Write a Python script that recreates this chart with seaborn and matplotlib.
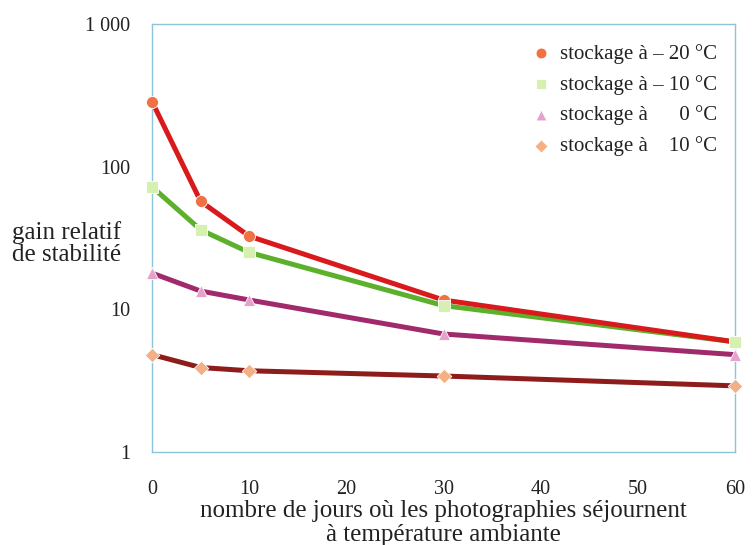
import pandas as pd
import numpy as np
import matplotlib
matplotlib.use('Agg')
import matplotlib.pyplot as plt
import seaborn as sns

# --------------
# Data
# --------------
jours = [0, 5, 10, 30, 60]
series = ['stockage à – 20 °C', 'stockage à – 10 °C', 'stockage à      0 °C', 'stockage à    10 °C']
gain_m20 = [285, 57, 32.5, 11.6, 5.9]
gain_m10 = [72, 36, 25, 10.6, 5.9]
gain_0 = [17.9, 13.4, 11.6, 6.7, 4.8]
gain_10 = [4.8, 3.9, 3.7, 3.4, 2.9]

y_ticks = [1, 10, 100, 1000]
y_ticklabels = ['1', '10', '100', '1 000']
x_ticks = [0, 10, 20, 30, 40, 50, 60]

line_colors = ['#d81a1c', '#5cb02c', '#a02a6c', '#8e1c1a']
marker_colors = ['#f07244', '#d6f0b0', '#e6a2cc', '#f2b084']
marker_shapes = ['o', 's', '^', 'D']
marker_sizes = [75, 65, 75, 55]

df = pd.DataFrame({
    'jours': jours * 4,
    'gain': gain_m20 + gain_m10 + gain_0 + gain_10,
    'serie': [s for s in series for _ in jours],
})

sns.set_style('white')
plt.rcParams['font.family'] = ['Liberation Serif', 'DejaVu Serif']

fig = plt.figure(figsize=(7.53, 5.45), dpi=100)
ax = fig.add_axes([0.202, 0.171, 0.774, 0.785])

# lines, drawn bottom series first so the red one stays on top
for i in reversed(range(4)):
    sub = df[df['serie'] == series[i]]
    sns.lineplot(data=sub, x='jours', y='gain', color=line_colors[i], linewidth=3.6,
                 ax=ax, legend=False, zorder=2 + (3 - i) * 0.1)

# markers
for i in range(4):
    sub = df[df['serie'] == series[i]]
    sns.scatterplot(data=sub, x='jours', y='gain', color=marker_colors[i],
                    marker=marker_shapes[i], s=marker_sizes[i], edgecolor='white',
                    linewidth=0.6, ax=ax, label=series[i], zorder=5, clip_on=False)

ax.set_yscale('log')
ax.set_ylim(1, 1000)
ax.set_xlim(0, 60)
ax.set_yticks(y_ticks)
ax.set_yticklabels(y_ticklabels)
ax.yaxis.set_minor_locator(matplotlib.ticker.NullLocator())
ax.set_xticks(x_ticks)

ax.tick_params(axis='both', which='major', direction='out', length=12, width=0.8,
               color='#9a9a9a', labelsize=14.5, labelcolor='#222222', pad=4)
ax.tick_params(axis='x', pad=8)

for sp in ax.spines.values():
    sp.set_color('#8cc4dc')
    sp.set_linewidth(1.0)

ax.set_xlabel('nombre de jours où les photographies séjournent\nà température ambiante',
              fontsize=18, color='#222222', labelpad=1, linespacing=1.12)
ax.set_ylabel('')
fig.text(0.016, 0.554, 'gain relatif\nde stabilité', fontsize=18, color='#222222',
         ha='left', va='center', linespacing=1.0)

leg = ax.legend(loc='upper right', frameon=False, fontsize=15, handlelength=0.8,
                handletextpad=0.5, labelspacing=0.52, borderaxespad=0.5, markerscale=0.9,
                bbox_to_anchor=(1.002, 0.997))
for t in leg.get_texts():
    t.set_color('#222222')

fig.savefig('out.png', dpi=100)
